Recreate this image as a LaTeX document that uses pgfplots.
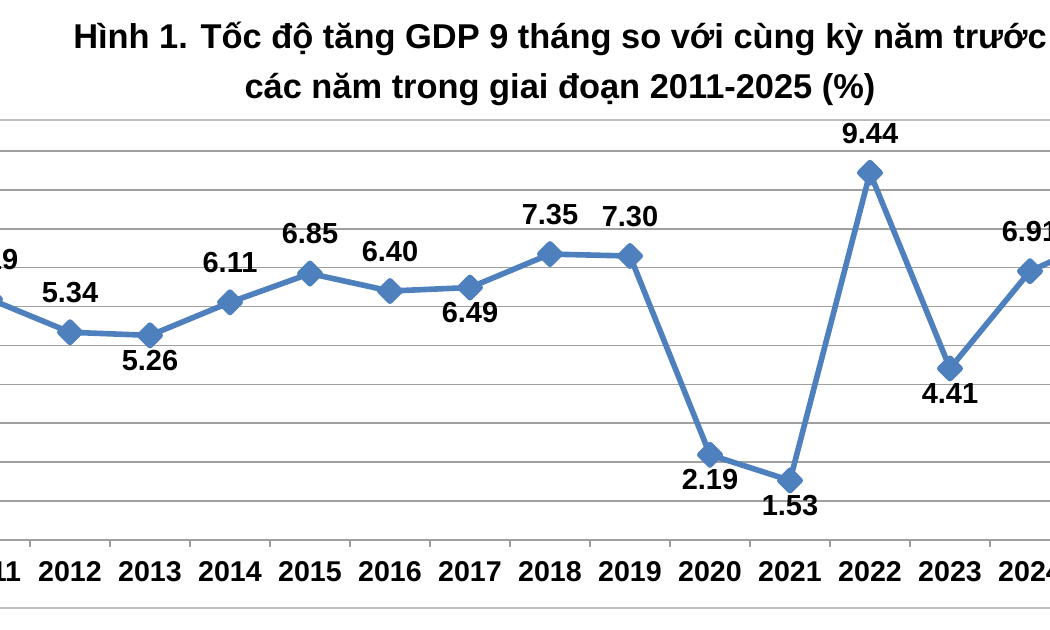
\documentclass[border=0pt]{standalone}
\usepackage{pgfplots}
\pgfplotsset{compat=1.18}
\usepackage{pgfplotstable}
\usepackage{fontspec}
\setmainfont{Liberation Sans}
\definecolor{lineblue}{RGB}{77,128,189}
\definecolor{gridgray}{RGB}{160,160,160}
\pgfplotstableread{
x y ang dy
0 6.19 -90 10
1 5.34 -90 10
2 5.26 90 -2.7
3 6.11 -90 10
4 6.85 -90 10
5 6.40 -90 10
6 6.49 90 -2.7
7 7.35 -90 10
8 7.30 -90 10
9 2.19 90 -2.7
10 1.53 90 -2.7
11 9.44 -90 10
12 4.41 90 -2.7
13 6.91 -90 10
14 7.85 -90 10
}\gdpdata
\begin{document}
\begin{tikzpicture}[x=1pt,y=1pt, trim left=0pt, trim right=525pt]
\path (0,0) rectangle (525,315);
\clip (0,0) rectangle (525,315);
\fill[white] (0,0) rectangle (525,315);
\draw[gridgray!70, line width=0.8pt] (-20,11) rectangle (545,255);
\node[anchor=base, inner sep=0pt, font=\fontsize{17.2}{20}\selectfont\bfseries] at (280,290.5) {Hình 1. Tốc độ tăng GDP 9 tháng so với cùng kỳ năm trước};
\node[anchor=base, inner sep=0pt, font=\fontsize{17.2}{20}\selectfont\bfseries] at (280,265.5) {các năm trong giai đoạn 2011-2025 (\%)};
\begin{axis}[
  at={(-25pt,45pt)}, anchor=south west,
  scale only axis, width=600pt, height=194.5pt,
  xmin=-0.5, xmax=14.5, ymin=0, ymax=10,
  ytick={0,...,10}, yticklabels={},
  ymajorgrids, grid style={gridgray, line width=0.8pt},
  axis x line*=bottom, axis y line*=left,
  axis line style={gridgray, line width=0.8pt, -},
  xtick={0,...,14},
  xticklabels={2011,2012,2013,2014,2015,2016,2017,2018,2019,2020,2021,2022,2023,2024,2025},
  major tick length=0pt,
  minor xtick={-0.5,0.5,...,14.5},
  minor tick length=3.5pt, tick align=outside,
  tick style={gridgray, line width=0.8pt},
  xticklabel shift=7pt,
  xticklabel style={font=\fontsize{14.3}{14.3}\selectfont\bfseries, text=black},
  /pgf/number format/assume math mode=true,
  clip=false,
]
\addplot[lineblue, line width=2.8pt, line join=round,
  mark=square*, mark size=3.6pt, mark options={rotate=45, solid, fill=lineblue},
  visualization depends on={\thisrow{ang} \as \lang},
  visualization depends on={\thisrow{dy} \as \ldy},
  nodes near coords={\pgfmathprintnumber[fixed,fixed zerofill,precision=2]{\pgfplotspointmeta}},
  every node near coord/.append style={anchor=\lang, yshift=\ldy pt, font=\fontsize{14.5}{14.5}\selectfont\bfseries, text=black},
] table[x=x, y=y] {\gdpdata};
\end{axis}
\end{tikzpicture}
\end{document}
